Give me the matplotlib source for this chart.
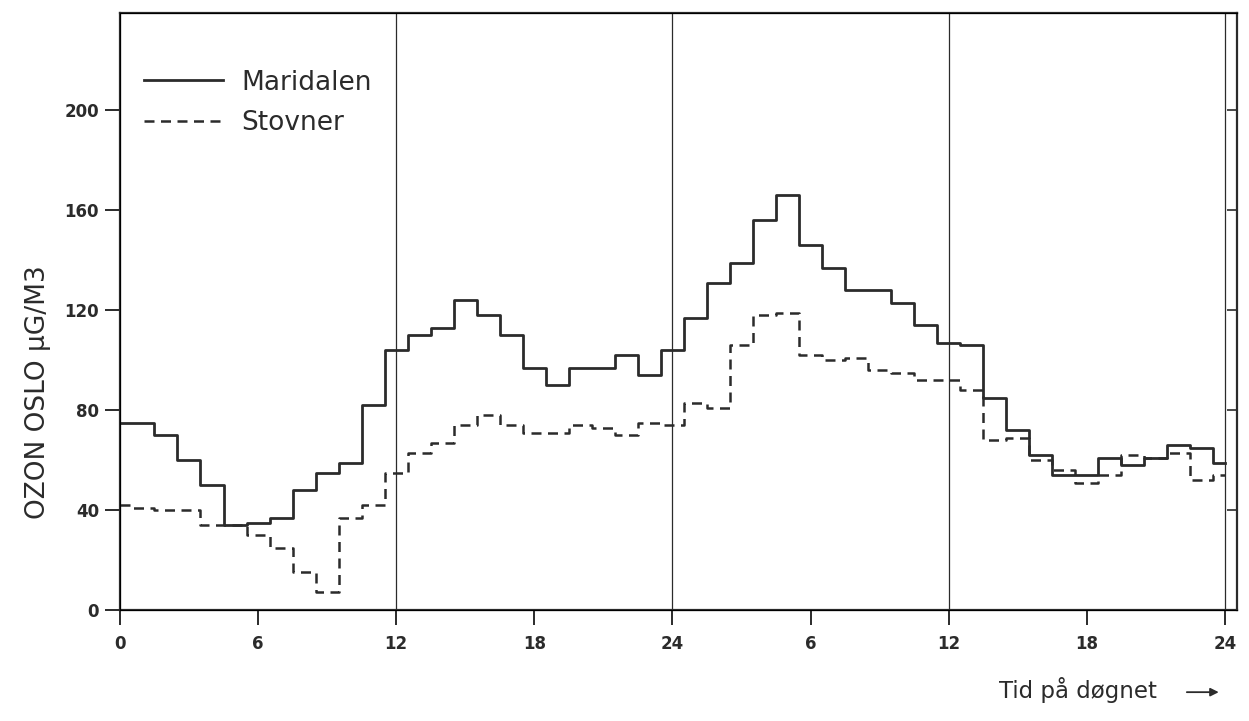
import numpy as np
import matplotlib
matplotlib.use('Agg')
import matplotlib.pyplot as plt

# hours after start of the two-day period
hours = list(range(0, 49))

# Maridalen, hourly ozone (ug/m3)
maridalen = [75, 75, 70, 60, 50, 34, 35, 37, 48, 55, 59, 82,
             104, 110, 113, 124, 118, 110, 97, 90, 97, 97, 102, 94,
             104, 117, 131, 139, 156, 166, 146, 137, 128, 128, 123, 114,
             107, 106, 85, 72, 62, 54, 54, 61, 58, 61, 66, 65, 59]

# Stovner, hourly ozone (ug/m3)
stovner = [42, 41, 40, 40, 34, 34, 30, 25, 15, 7, 37, 42,
           55, 63, 67, 74, 78, 74, 71, 71, 74, 73, 70, 75,
           74, 83, 81, 106, 118, 119, 102, 100, 101, 96, 95, 92,
           92, 88, 68, 69, 60, 56, 51, 54, 62, 61, 63, 52, 54]

xticks = [0, 6, 12, 18, 24, 30, 36, 42, 48]
xticklabels = ['0', '6', '12', '18', '24', '6', '12', '18', '24']
yticks = [0, 40, 80, 120, 160, 200]
day_lines = [12, 24, 36, 48]

ink = '#2b2b2b'


def plot():
    fig = plt.figure(figsize=(12.49, 7.21), dpi=100)
    ax = fig.add_axes([0.096, 0.154, 0.894, 0.828])

    for d in day_lines:
        ax.axvline(d, color=ink, lw=0.9, zorder=1)

    ax.step(hours, maridalen, where='mid', color=ink, lw=2.0,
            label='Maridalen', zorder=3)
    ax.step(hours, stovner, where='mid', color=ink, lw=1.8,
            linestyle=(0, (4, 2.6)), label='Stovner', zorder=3)

    ax.set_xlim(0, 48.5)
    ax.set_ylim(0, 239)
    ax.set_xticks(xticks)
    ax.set_xticklabels(xticklabels)
    ax.set_yticks(yticks)
    ax.tick_params(axis='both', direction='out', length=11, width=1.4,
                   color=ink, labelcolor=ink)
    ax.tick_params(axis='x', pad=7)
    ax.tick_params(axis='y', pad=4)
    for lab in ax.get_xticklabels() + ax.get_yticklabels():
        lab.set_fontsize(12)
        lab.set_fontweight('bold')

    for s in ax.spines.values():
        s.set_linewidth(1.6)
        s.set_color(ink)

    # small inward ticks on right edge
    ax2 = ax.twinx()
    ax2.set_ylim(ax.get_ylim())
    ax2.set_yticks(yticks)
    ax2.tick_params(direction='in', length=7, width=1.2, color=ink,
                    labelright=False)
    ax2.spines['right'].set_visible(False)

    ax.set_ylabel('OZON OSLO \u00b5G/M3', fontsize=19, color=ink)
    ax.yaxis.set_label_coords(-0.062, 0.365)

    leg = ax.legend(loc='upper left', frameon=False, fontsize=19,
                    handlelength=3.0, handletextpad=0.7, labelspacing=0.55,
                    bbox_to_anchor=(0.0, 0.945))
    for t in leg.get_texts():
        t.set_color(ink)

    fig.text(0.80, 0.043, 'Tid p\u00e5 d\u00f8gnet', fontsize=16.5,
             color=ink, va='center')
    ax.annotate('', xy=(0.978, 0.040), xytext=(0.948, 0.040),
                xycoords='figure fraction',
                arrowprops=dict(arrowstyle='-|>', color=ink, lw=1.3,
                                mutation_scale=12))

    fig.savefig('out.png', dpi=100, facecolor='white')


if __name__ == '__main__':
    plot()
